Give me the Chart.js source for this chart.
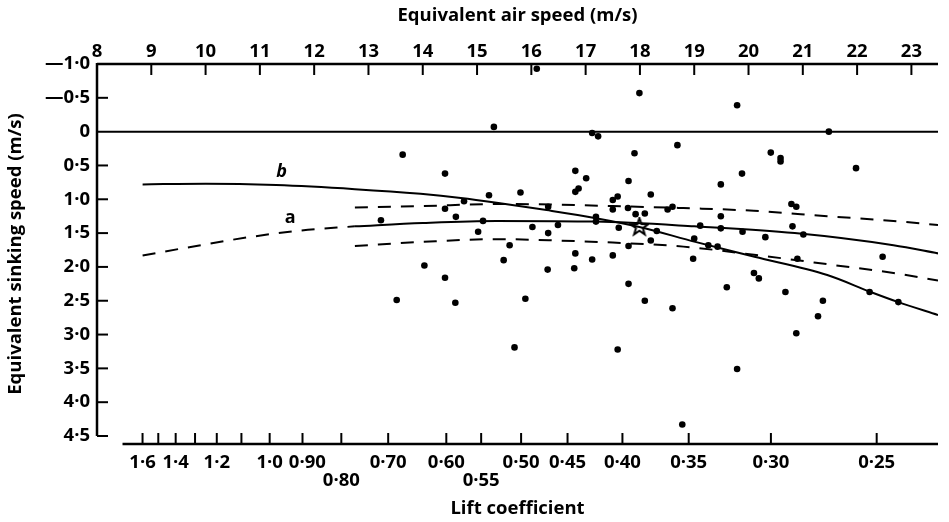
<!DOCTYPE html>
<html>
<head>
<meta charset="utf-8">
<script src="https://cdn.jsdelivr.net/npm/chart.js@4.4.0/dist/chart.umd.min.js"></script>
<style>
  body { margin: 0; background: #fff; }
  canvas { display: block; }
</style>
</head>
<body>
<canvas id="sinkChart" width="949" height="522"></canvas>
<script>
// lift coefficient axis: CL * V^2 = K
const K = 125;

const speedTicks = [8, 9, 10, 11, 12, 13, 14, 15, 16, 17, 18, 19, 20, 21, 22, 23];
const sinkTicks = [-1, -0.5, 0, 0.5, 1, 1.5, 2, 2.5, 3, 3.5, 4, 4.5];
const sinkLabels = ['—1·0', '—0·5', '0', '0·5', '1·0', '1·5', '2·0', '2·5', '3·0', '3·5', '4·0', '4·5'];
const liftTicks = [1.6, 1.5, 1.4, 1.3, 1.2, 1.1, 1.0, 0.9, 0.8, 0.7, 0.6, 0.55, 0.5, 0.45, 0.4, 0.35, 0.3, 0.25];
const liftLabels = ['1·6', '', '1·4', '', '1·2', '', '1·0', '  0·90', ['', '0·80'], '0·70', '0·60', ['', '0·55'],
                    '0·50', '0·45', '0·40', '0·35', '0·30', '0·25'];

// observed glides: air speed (m/s), sinking speed (m/s)
const obsSpeed = [16.10, 17.99, 19.79, 15.31, 17.12, 17.23, 21.48, 18.69, 17.90, 20.41, 20.59, 20.59, 21.98, 16.81,
  17.01, 19.88, 17.79, 19.49, 16.87, 16.81, 15.80, 18.20, 17.59, 17.50, 16.31, 17.50, 17.78, 18.60, 18.51, 17.92,
  18.09, 20.79, 20.88, 19.49, 17.19, 17.19, 16.49, 16.02, 16.31, 17.61, 18.31, 19.11, 19.49, 19.89, 20.31, 20.81,
  21.01, 15.60, 18.20, 17.79, 19.00, 19.26, 19.43, 15.49, 16.81, 17.12, 17.50, 16.30, 16.79, 18.98, 20.90, 22.47,
  20.10, 20.19, 15.89, 17.79, 19.60, 20.68, 18.09, 18.60, 21.37, 22.23, 22.76, 21.28, 20.88, 15.69, 17.59, 19.79,
  18.78, 13.52, 14.60, 13.63, 14.41, 15.22, 14.76, 14.41, 13.23, 14.61, 15.11, 15.02, 14.03, 14.41];
const obsSink = [-0.93, -0.57, -0.39, -0.07, 0.02, 0.07, 0.00, 0.20, 0.32, 0.31, 0.39, 0.44, 0.54, 0.58,
  0.69, 0.62, 0.73, 0.78, 0.84, 0.89, 0.90, 0.93, 0.96, 1.01, 1.11, 1.15, 1.13, 1.11, 1.15, 1.22,
  1.21, 1.07, 1.11, 1.25, 1.26, 1.33, 1.38, 1.41, 1.50, 1.42, 1.47, 1.39, 1.43, 1.48, 1.56, 1.40,
  1.52, 1.68, 1.61, 1.69, 1.58, 1.68, 1.70, 1.90, 1.80, 1.89, 1.83, 2.04, 2.02, 1.88, 1.88, 1.85,
  2.09, 2.17, 2.47, 2.25, 2.30, 2.37, 2.50, 2.61, 2.50, 2.37, 2.52, 2.73, 2.98, 3.19, 3.22, 3.51,
  4.33, 2.49, 2.53, 0.34, 0.62, 0.94, 1.03, 1.14, 1.31, 1.26, 1.32, 1.48, 1.98, 2.16];

const starSpeed = [17.99];
const starSink = [1.41];

// curve b
const curveBSpeed = [8.84, 10.0, 11.3, 12.75, 13.96, 14.7, 15.36, 16.28, 17.19, 17.99, 19.02, 20.11, 21.45, 22.25, 22.76, 23.49];
const curveBSink = [0.78, 0.77, 0.79, 0.85, 0.92, 0.98, 1.05, 1.16, 1.28, 1.41, 1.63, 1.85, 2.12, 2.37, 2.52, 2.71];

// curve a, extrapolated (dashed) and fitted (solid) parts
const curveADashSpeed = [8.84, 9.83, 10.8, 11.77, 12.75];
const curveADashSink = [1.83, 1.69, 1.56, 1.46, 1.40];
const curveASpeed = [12.75, 14.0, 15.36, 17.19, 19.0, 20.85, 22.67, 23.49];
const curveASink = [1.40, 1.35, 1.32, 1.33, 1.40, 1.50, 1.68, 1.80];

// dashed limits around curve a
const bandSpeed = [12.75, 14.0, 15.36, 16.5, 17.5, 18.8, 20.1, 21.45, 22.67, 23.49];
const bandUpper = [1.12, 1.10, 1.07, 1.08, 1.10, 1.13, 1.17, 1.25, 1.32, 1.38];
const bandLower = [1.69, 1.63, 1.59, 1.61, 1.64, 1.70, 1.82, 1.96, 2.09, 2.20];

const curveNames = ['b', 'a'];
const curveNameSpeed = [11.40, 11.56];
const curveNameSink = [0.60, 1.28];

const pts = (xs, ys) => xs.map((v, i) => ({x: v, y: ys[i]}));

const font = {family: '"Open Sans", sans-serif', size: 18.5, weight: 'bold'};

// five point star marker
const starImg = document.createElement('canvas');
starImg.width = 20; starImg.height = 20;
(function () {
  const c = starImg.getContext('2d');
  c.beginPath();
  for (let i = 0; i < 10; i++) {
    const r = i % 2 === 0 ? 9 : 3.6;
    const a = -Math.PI / 2 + i * Math.PI / 5;
    c.lineTo(10 + r * Math.cos(a), 10 + r * Math.sin(a));
  }
  c.closePath();
  c.lineWidth = 2;
  c.strokeStyle = '#000';
  c.stroke();
})();

const lineSet = (data, dash) => ({
  data: data,
  showLine: true,
  borderColor: '#000',
  borderWidth: 2,
  borderDash: dash,
  pointRadius: 0,
  cubicInterpolationMode: 'monotone',
  fill: false
});

const axisPlugin = {
  id: 'axisLines',
  beforeDatasetsDraw(chart) {
    const {ctx, chartArea: a, scales} = chart;
    const x = scales.x, x2 = scales.x2, y = scales.y;
    const seg = (x1, y1, xb, yb) => { ctx.beginPath(); ctx.moveTo(x1, y1); ctx.lineTo(xb, yb); ctx.stroke(); };
    ctx.save();
    ctx.strokeStyle = '#000';
    ctx.lineWidth = 2.5;
    seg(a.left, a.top, a.right, a.top);
    seg(a.left, a.top - 1, a.left, y.getPixelForValue(4.5));
    seg(x.getPixelForValue(8.47), a.bottom, a.right, a.bottom);
    ctx.lineWidth = 2;
    const y0 = y.getPixelForValue(0);
    seg(a.left, y0, a.right, y0);
    x.ticks.forEach(t => { const px = x.getPixelForValue(t.value); seg(px, a.top, px, a.top + 11); });
    y.ticks.forEach(t => {
      if (t.value === 0 || t.value === -1) return;
      const py = y.getPixelForValue(t.value);
      seg(a.left, py, a.left + 11, py);
    });
    x2.ticks.forEach(t => { const px = x2.getPixelForValue(t.value); seg(px, a.bottom, px, a.bottom - 11); });
    ctx.restore();
  },
  afterDatasetsDraw(chart) {
    const {ctx, scales} = chart;
    ctx.save();
    ctx.fillStyle = '#000';
    ctx.textAlign = 'center';
    ctx.textBaseline = 'middle';
    curveNames.forEach((n, i) => {
      ctx.font = (i === 0 ? 'italic ' : '') + 'bold 18px "Open Sans", sans-serif';
      ctx.fillText(n, scales.x.getPixelForValue(curveNameSpeed[i]), scales.y.getPixelForValue(curveNameSink[i]));
    });
    ctx.restore();
  }
};

const config = {
  type: 'scatter',
  data: {
    datasets: [
      {data: pts(obsSpeed, obsSink), backgroundColor: '#000', borderWidth: 0, pointRadius: 3.3},
      {data: pts(starSpeed, starSink), pointStyle: starImg, pointRadius: 10},
      lineSet(pts(curveBSpeed, curveBSink), []),
      lineSet(pts(curveADashSpeed, curveADashSink), [13, 10]),
      lineSet(pts(curveASpeed, curveASink), []),
      lineSet(pts(bandSpeed, bandUpper), [13, 10]),
      lineSet(pts(bandSpeed, bandLower), [13, 10])
    ]
  },
  options: {
    responsive: false,
    animation: false,
    layout: {padding: {left: 0, right: 4, top: 0, bottom: 0}},
    plugins: {legend: {display: false}, tooltip: {enabled: false}},
    scales: {
      x: {
        type: 'linear', position: 'top', min: 8, max: 23.49,
        grid: {display: false, drawTicks: false}, border: {display: false},
        afterBuildTicks: s => { s.ticks = speedTicks.map(v => ({value: v})); },
        afterFit: s => { s.height = 64; },
        ticks: {color: '#000', font: font, padding: 1, autoSkip: false, maxRotation: 0, minRotation: 0,
                callback: v => String(v)},
        title: {display: true, text: 'Equivalent air speed (m/s)', color: '#000', font: font, padding: {top: 5}}
      },
      x2: {
        type: 'linear', position: 'bottom', min: 8, max: 23.49,
        grid: {display: false, drawTicks: false}, border: {display: false},
        afterBuildTicks: s => { s.ticks = liftTicks.map(c => ({value: Math.sqrt(K / c)})); },
        afterFit: s => { s.height = 78; },
        ticks: {color: '#000', font: Object.assign({}, font, {lineHeight: 1.0}), padding: 9,
                autoSkip: false, maxRotation: 0, minRotation: 0,
                callback: (v, i) => liftLabels[i]},
        title: {display: true, text: 'Lift coefficient', color: '#000', font: font, padding: {bottom: 2}}
      },
      y: {
        type: 'linear', position: 'left', reverse: true, min: -1, max: 4.618,
        grid: {display: false, drawTicks: false}, border: {display: false},
        afterBuildTicks: s => { s.ticks = sinkTicks.map(v => ({value: v})); },
        afterFit: s => { s.width = 97; },
        ticks: {color: '#000', font: font, padding: 7, callback: (v, i) => sinkLabels[i]},
        title: {display: true, text: 'Equivalent sinking speed (m/s)', color: '#000', font: font, padding: {top: 5}}
      }
    }
  },
  plugins: [axisPlugin]
};

const sinkChart = new Chart(document.getElementById('sinkChart'), config);
</script>
</body>
</html>
